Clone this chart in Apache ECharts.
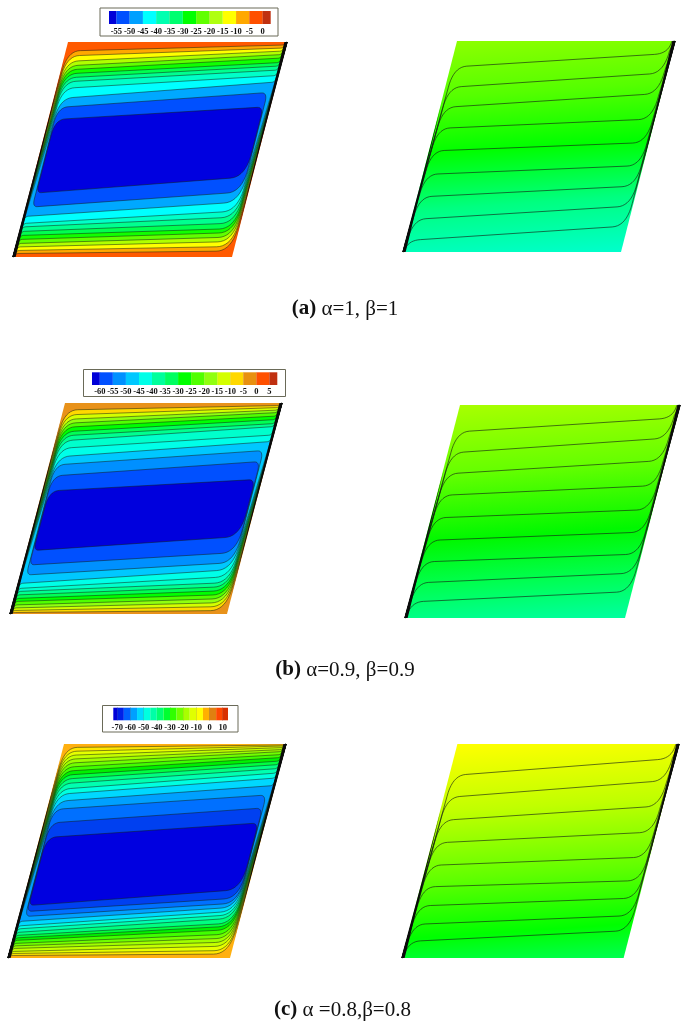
<!DOCTYPE html>
<html><head><meta charset="utf-8">
<style>html,body{margin:0;padding:0;background:#fff}#c{width:685px;height:1022px;filter:blur(0.5px)}</style>
<script src="https://cdn.jsdelivr.net/npm/echarts@6/dist/echarts.min.js"></script>
</head><body><div id="c"></div>
<script>
// ---- values: contour heights above the lower wall ----
const aTopL=[206,201,195.5,191,187,183,179,175,168.5,158.5,149.5,137.5];
const aTopR=[212,209,206,202.5,199,194.5,191,187,181.5,175,164.5,150];
const aBotL=[3.5,6.5,10,13.5,17.5,21.5,25.5,30,33.5,40.5,50,64];
const aBotR=[6,10.5,15.5,20,24.5,28.5,34,40,46,55,65,80];
const aFill=['#ff5a00','#ffa800','#ffff00','#b0ff00','#60ff00','#10ff00','#00ff50','#00ff90','#00ffc8','#00ffff','#00a8ff','#0050ff','#0000e0'];

const bTopL=[204,199,194.5,190.5,186.5,182,178,173,165.5,157,149,138,123];
const bTopR=[208.5,206.5,204,201.5,198,194.5,190.5,187.5,179,172.5,163.5,152.5,134.5];
const bBotL=[1.5,3.5,6,9,12.5,15.5,19,22.5,25.5,30.5,39,49,63.5];
const bBotR=[3.5,7.5,11.5,15.5,19.5,23.5,27.5,31.5,37.5,44.5,51.5,61.5,77.5];
const bFill=['#e8921a','#ffd800','#d4ff00','#90ff10','#50ff00','#00ff00','#00ff55','#00ff90','#00ffcc','#00ffe8','#00c8ff','#0090ff','#0050ff','#0000dd'];

const cTopL=[210.5,206.5,202.5,198.5,194.5,190.5,186.5,182.5,178.5,174,168.5,163.5,156.5,148.5,135,120.5];
const cTopR=[213,212,210.5,208.5,206.5,203.5,200.5,197,193.5,189.5,185,180,172.5,163,150,135];
const cBotL=[2.5,4.5,6.5,9.5,12,14.5,17.5,20,22.5,25.5,29,32,36.5,41.5,46.5,52.5];
const cBotR=[4,7.5,12,16,20,24,28.5,32,35,40,43.5,47,51,55,60,68.5];
const cFill=['#ffb010','#ffe600','#e6ff00','#c4ff00','#a0ff00','#70ff00','#40ff00','#00f000','#00ff40','#00ff80','#00ffb0','#00ffe0','#00d8ff','#00a0ff','#0070ff','#0040f0','#0000e0'];

const dL=[185,164.5,144.5,123.5,101,77.5,55,32.5,11.5];
const dR=[198.5,179,158.5,133,109.5,86.5,66,46,26];
const dGrad=[[0,'#8cff00'],[0.25,'#55ff00'],[0.5,'#00ff00'],[0.75,'#00ff80'],[1,'#00ffcc']];
const eL=[186,165,144,122.5,100,77.5,56,35,16];
const eR=[200,180,157.5,132.5,108.5,86,64,45,26.5];
const eGrad=[[0,'#a8ff00'],[0.3,'#66ff00'],[0.6,'#00f800'],[0.8,'#00ff50'],[1,'#00ffa0']];
const fL=[182.5,160.5,137.5,115,92.5,71,52,33.5,16.5];
const fR=[199.5,177.5,152,126,101,77.5,60,42.5,27.5];
const fGrad=[[0,'#ffff00'],[0.3,'#c0ff00'],[0.6,'#60ff00'],[0.85,'#00ff00'],[1,'#00ff50']];

// colour-bar levels and cells
const barALabels=[-55,-50,-45,-40,-35,-30,-25,-20,-15,-10,-5,0];
const barAEdges=[-57.75,-55,-50,-45,-40,-35,-30,-25,-20,-15,-10,-5,0,3];
const barAColors=['#0000d8','#0050ff','#00a0ff','#00ffff','#00ffb0','#00ff70','#00ff00','#60ff00','#b0ff10','#ffff00','#ffa800','#ff5000','#c03010'];
const barBLabels=[-60,-55,-50,-45,-40,-35,-30,-25,-20,-15,-10,-5,0,5];
const barBEdges=[-63,-60,-55,-50,-45,-40,-35,-30,-25,-20,-15,-10,-5,0,5,8];
const barBColors=['#0000d8','#0050ff','#0090ff','#00c8ff','#00ffe8','#00ff9c','#00ff60','#00ff00','#50ff00','#90ff10','#d4ff00','#ffd800','#e89010','#ff5000','#c03010'];
const barCLabels=[-70,-60,-50,-40,-30,-20,-10,0,10];
const barCEdges=[-73,-70,-65,-60,-55,-50,-45,-40,-35,-30,-25,-20,-15,-10,-5,0,5,10,14];
const barCColors=['#0000d8','#0020e8','#0060ff','#00a0ff','#00d8ff','#00ffe0','#00ffa8','#00ff70','#00ff30','#30ff00','#70ff00','#a8ff00','#e0ff00','#ffff00','#ffb000','#e08010','#ff4800','#d83000'];

const captions=[['(a)',' α=1, β=1'],['(b)',' α=0.9, β=0.9'],['(c)',' α =0.8,β=0.8']];

// ---- layout ----
const panels=[
 {box:[13,42,274,215],W:219,closed:2,reachL:0.93,reachR:0.07,topL:aTopL,topR:aTopR,botL:aBotL,botR:aBotR,fill:aFill},
 {box:[10,403,272,211],W:217,closed:3,reachL:0.93,reachR:0.07,topL:bTopL,topR:bTopR,botL:bBotL,botR:bBotR,fill:bFill},
 {box:[8,744,278,214],W:222,closed:3,reachL:0.93,reachR:0.07,topL:cTopL,topR:cTopR,botL:cBotL,botR:cBotR,fill:cFill},
 {box:[403,41,272,211],W:218,reachL:0.7,reachR:0.4,L:dL,R:dR,grad:dGrad},
 {box:[405,405,275,213],W:220,reachL:0.7,reachR:0.4,L:eL,R:eR,grad:eGrad},
 {box:[402,744,277,214],W:221.6,reachL:0.7,reachR:0.4,L:fL,R:fR,grad:fGrad}
];
const bars=[
 {box:[109,11,161.7,13],frame:[100,8,178,28],labels:barALabels,edges:barAEdges,colors:barAColors,tick:'rgba(40,40,40,.35)',margin:3},
 {box:[92,372.3,185.3,12.7],frame:[83.5,369.5,202,27],labels:barBLabels,edges:barBEdges,colors:barBColors,tick:'rgba(40,40,40,.3)',margin:2},
 {box:[113.3,707.7,114.7,12.6],frame:[102.5,705.5,135.5,26.5],labels:barCLabels,edges:barCEdges,colors:barCColors,tick:'rgba(0,0,0,.8)',margin:3}
];

function quad(out,a,c,b){for(let i=0;i<=10;i++){const t=i/10,u=1-t;out.push([u*u*a[0]+2*u*t*c[0]+t*t*b[0],u*u*a[1]+2*u*t*c[1]+t*t*b[1]]);}}
// rounded run between two walls; each corner spreads further along the wall than along the line
function curve(H,W,hL,hR,rL,rR,dirL,dirR,oL,oR){
 const m=(hR-hL)/(W-oL-oR),p=[];
 let wl=hL+dirL*rL*1.6,wr=hR+dirR*rR*1.6;
 wl=Math.max(0.6,Math.min(H,wl));wr=Math.min(H-0.6,Math.max(0,wr));
 quad(p,[oL,wl],[oL,hL],[oL+rL,hL+m*rL]);
 quad(p,[W-oR-rR,hR-m*rR],[W-oR,hR],[W-oR,wr]);
 return p;
}
function toData(pn,q){return [q[0]+q[1]*(pn.box[2]-pn.W)/pn.box[3],q[1]];}
// black bunches of contours along the two side walls, thick at the corner and tapering away
function wedges(H,W,a,b){return [
 [[-0.7,0],[2.6,0],[2.6,H*0.03],[1.5,H*a*0.5],[0.5,H*a],[0.1,H*a*0.5],[-0.7,H*0.03]],
 [[W+0.7,H],[W-2.6,H],[W-2.6,H*0.97],[W-1.5,H*(1+b)*0.5],[W-0.5,H*b],[W-0.1,H*(1+b)*0.5],[W+0.7,H*0.97]]
];}

const grid=[],xAxis=[],yAxis=[],series=[];
panels.forEach((pn,gi)=>{
 grid.push({left:pn.box[0],top:pn.box[1],width:pn.box[2],height:pn.box[3]});
 xAxis.push({type:'value',gridIndex:gi,min:0,max:pn.box[2],show:false});
 yAxis.push({type:'value',gridIndex:gi,min:0,max:pn.box[3],show:false});
 const H=pn.box[3],W=pn.W;
 const outline=[[0,0],[W,0],[W,H],[0,H]].map(q=>toData(pn,q));
 const walls=wedges(H,W,pn.reachL,pn.reachR);
 if(pn.fill){
  const n=pn.topL.length,rows=[[-1,0,0,0,0]];
  pn.topL.forEach((v,i)=>rows.push([i,v,pn.topR[i],pn.botL[i],pn.botR[i]]));
  rows.push([-2,0,0,0,0],[-3,0,0,0,0]);
  series.push({type:'custom',xAxisIndex:gi,yAxisIndex:gi,silent:true,clip:false,data:rows,dimensions:['i','tl','tr','bl','br'],
   renderItem(params,api){
    const i=api.value(0);
    if(i===-1)return{type:'polygon',shape:{points:outline.map(q=>api.coord(q))},style:{fill:pn.fill[0]}};
    if(i<-1)return{type:'polygon',shape:{points:walls[-i-2].map(q=>api.coord(toData(pn,q)))},style:{fill:'#0a0a0a'}};
    const closed=i>=n-pn.closed;
    const deep=1.5+5.5*i/(n-1);
    const top=closed?curve(H,W,api.value(1),api.value(2),10,6,-1,-1,deep,deep):curve(H,W,api.value(1),api.value(2),13,4,-1,1,deep,1);
    const bot=closed?curve(H,W,api.value(3),api.value(4),5,15,1,1,deep,deep):curve(H,W,api.value(3),api.value(4),4,16,-1,1,1,deep);
    let pts;
    if(closed)pts=top.concat(bot.slice().reverse());
    else pts=[[0,0]].concat(top,[[W,H]],bot.slice().reverse());
    return{type:'polygon',shape:{points:pts.map(q=>api.coord(toData(pn,q)))},
     style:{fill:pn.fill[i+1],stroke:'rgba(20,30,20,0.85)',lineWidth:0.6,lineJoin:'round'}};
   }});
 }else{
  const rows=[[-1,0,0]];
  pn.L.forEach((v,i)=>rows.push([i,v,pn.R[i]]));
  rows.push([-2,0,0],[-3,0,0]);
  series.push({type:'custom',xAxisIndex:gi,yAxisIndex:gi,silent:true,clip:false,data:rows,dimensions:['i','l','r'],
   renderItem(params,api){
    const i=api.value(0);
    if(i===-1){
     const px=outline.map(q=>api.coord(q));
     const nx=0.067,ny=1,dots=px.map(p=>p[0]*nx+p[1]*ny);
     const t0=Math.min(...dots),t1=Math.max(...dots),k=1+nx*nx;
     const base=px[3],d0=(t0-(base[0]*nx+base[1]*ny))/k,d1=(t1-(base[0]*nx+base[1]*ny))/k;
     return{type:'polygon',shape:{points:px},style:{fill:{type:'linear',global:true,
       x:base[0]+nx*d0,y:base[1]+ny*d0,x2:base[0]+nx*d1,y2:base[1]+ny*d1,
       colorStops:pn.grad.map(s=>({offset:s[0],color:s[1]}))}}};
    }
    if(i<-1)return{type:'polygon',shape:{points:walls[-i-2].map(q=>api.coord(toData(pn,q)))},style:{fill:'#0a0a0a'}};
    const o=1.2+(8-i)*0.25;
    const pts=[[0,0]].concat(curve(H,W,api.value(1),api.value(2),13,14,-1,1,o,o),[[W,H]]);
    return{type:'polyline',shape:{points:pts.map(q=>api.coord(toData(pn,q)))},
     style:{fill:null,stroke:'rgba(20,30,20,0.9)',lineWidth:0.7,lineJoin:'round'}};
   }});
 }
});
const graphic=[];
bars.forEach((b,bi)=>{
 const gi=panels.length+bi;
 grid.push({left:b.box[0],top:b.box[1],width:b.box[2],height:b.box[3]});
 xAxis.push({type:'value',gridIndex:gi,min:b.edges[0],max:b.edges[b.edges.length-1],splitLine:{show:false},axisLine:{show:false},
  axisTick:{show:true,inside:true,length:b.box[3],customValues:b.labels,lineStyle:{color:b.tick,width:0.7}},
  axisLabel:{show:true,margin:b.margin,customValues:b.labels,fontFamily:'Liberation Serif',fontWeight:'bold',fontSize:8.5,color:'#111',hideOverlap:false,showMinLabel:true,showMaxLabel:true}});
 yAxis.push({type:'value',gridIndex:gi,min:0,max:1,show:false});
 series.push({type:'custom',xAxisIndex:gi,yAxisIndex:gi,silent:true,z:3,
  data:b.colors.map((c,i)=>[b.edges[i],b.edges[i+1]]),
  renderItem(params,api){
   const a=api.coord([api.value(0),1]),z=api.coord([api.value(1),0]);
   return{type:'rect',shape:{x:a[0],y:a[1],width:z[0]-a[0],height:z[1]-a[1]},style:{fill:b.colors[params.dataIndex]}};
  }});
 graphic.push({type:'rect',z:0,shape:{x:b.frame[0],y:b.frame[1],width:b.frame[2],height:b.frame[3]},style:{fill:'#fff',stroke:'#6a6a58',lineWidth:1}});
});
const capY=[309,670,1010],capX=[345,345,342.5];
captions.forEach((c,i)=>{
 graphic.push({type:'text',x:capX[i],y:capY[i],style:{text:'{b|'+c[0]+'}'+c[1],align:'center',verticalAlign:'middle',fill:'#111',
  font:'21px "Liberation Serif"',rich:{b:{fontWeight:'bold',fontSize:21,fontFamily:'Liberation Serif',fill:'#111'}}}});
});
const chart=echarts.init(document.getElementById('c'),null,{renderer:'canvas',width:685,height:1022});
chart.setOption({animation:false,backgroundColor:'#fff',grid,xAxis,yAxis,series,graphic});
</script></body></html>
